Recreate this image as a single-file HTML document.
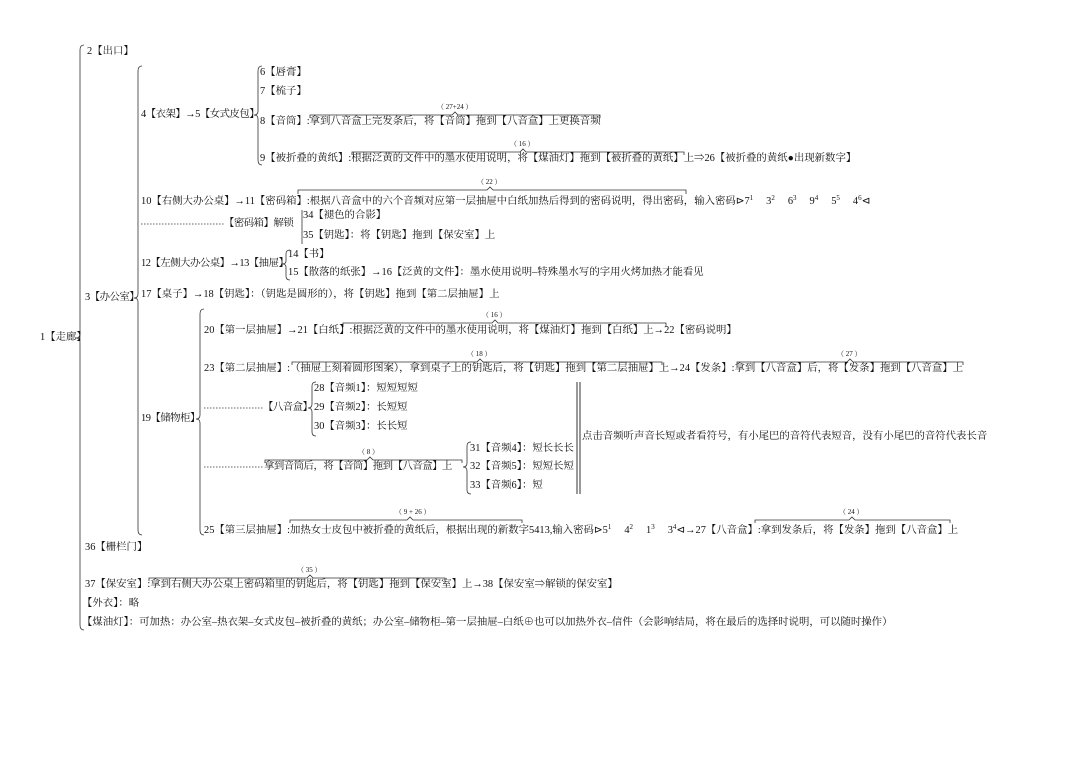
<!DOCTYPE html>
<html><head><meta charset="utf-8"><style>
html,body{margin:0;padding:0;background:#fff}
#c{position:relative;width:1080px;height:762px;overflow:hidden;background:#fff;font-family:"Liberation Serif","Noto Serif CJK SC",serif;font-size:10.4px;color:#111}
.t{position:absolute;white-space:nowrap;line-height:12px;height:12px}
.s{font-size:7px;vertical-align:4px}
.l{font-size:7px;position:absolute;white-space:nowrap}
.n{letter-spacing:-0.5px}
svg{position:absolute;left:0;top:0}
</style></head><body><div id="c">
<svg width="1080" height="762" fill="none" stroke="#333" stroke-width="0.8">
<path d="M84,45 Q80,45 80,50 L80,334 Q80,338 76,338 Q80,338 80,342 L80,625 Q80,630 84,630"/>
<path d="M142,66 Q138,66 138,71 L138,294 Q138,298 134,298 Q138,298 138,302 L138,530 Q138,535 142,535"/>
<path d="M262,66 Q258,66 258,71 L258,111 Q258,115 254,115 Q258,115 258,119 L258,160 Q258,165 262,165"/>
<path d="M302,210 L302,244"/>
<path d="M290,250 Q286,250 286,254 L286,261 Q286,264 282,264 Q286,264 286,267 L286,276 Q286,280 290,280"/>
<path d="M204,309 Q200,309 200,314 L200,415 Q200,419 196,419 Q200,419 200,423 L200,530 Q200,535 204,535"/>
<path d="M316,382 Q312,382 312,386 L312,404 Q312,408 308,408 Q312,408 312,412 L312,432 Q312,436 316,436"/>
<path d="M471,442 Q467,442 467,446 L467,463 Q467,467 463,467 Q467,467 467,471 L467,490 Q467,494 471,494"/>
<path d="M577,382 L577,494 M580,382 L580,494" stroke-width="1"/>
<path d="M310,118 L310,115 L452,115 L455,112 L458,115 L600,115 L600,118"/>
<path d="M352,155 L352,152 L520,152 L523,149 L526,152 L684,152 L684,155"/>
<path d="M298,194 L298,190 L487,190 L490,187 L493,190 L686,190 L686,194"/>
<path d="M343,327 L343,323 L492,323 L495,320 L498,323 L666,323 L666,327"/>
<path d="M292,365 L292,362 L477,362 L480,359 L483,362 L662,362 L662,365"/>
<path d="M737,365 L737,362 L847,362 L850,359 L853,362 L963,362 L963,365"/>
<path d="M265,463 L265,460 L367,460 L370,457 L373,460 L462,460 L462,463"/>
<path d="M290,523 L290,520 L407,520 L410,517 L413,520 L522,520 L522,523"/>
<path d="M755,523 L755,520 L849,520 L852,517 L855,520 L950,520 L950,523"/>
<path d="M149,581 L149,578 L307,578 L310,575 L313,578 L445,578 L445,581"/>
<path d="M141,224 L224,224 M204,408 L263,408 M204,467 L263,467" stroke-dasharray="1.5,1.5"/>
</svg>
<div class="l" style="left:437px;top:102px">（ 27+24 ）</div>
<div class="l" style="left:510px;top:139px">（ 16 ）</div>
<div class="l" style="left:477px;top:177px">（ 22 ）</div>
<div class="l" style="left:482px;top:310px">（ 16 ）</div>
<div class="l" style="left:467px;top:349px">（ 18 ）</div>
<div class="l" style="left:837px;top:349px">（ 27 ）</div>
<div class="l" style="left:358px;top:447px">（ 8 ）</div>
<div class="l" style="left:395px;top:507px">（ 9 + 26 ）</div>
<div class="l" style="left:839px;top:507px">（ 24 ）</div>
<div class="l" style="left:297px;top:565px">（ 35 ）</div>

<div class="t" style="left:40px;top:332px">1【走廊】</div>
<div class="t" style="left:87px;top:46px">2【出口】</div>
<div class="t n" style="left:85px;top:292px">3【办公室】</div>
<div class="t n" style="left:141px;top:109px">4【衣架】→5【女式皮包】</div>
<div class="t" style="left:260px;top:67px">6【唇膏】</div>
<div class="t" style="left:260px;top:86px">7【梳子】</div>
<div class="t" style="left:260px;top:116px">8【音筒】:拿到八音盒上完发条后，将【音筒】拖到【八音盒】上更换音频</div>
<div class="t" style="left:260px;top:153px">9【被折叠的黄纸】:根据泛黄的文件中的墨水使用说明，将【煤油灯】拖到【被折叠的黄纸】上⇒26【被折叠的黄纸●出现新数字】</div>
<div class="t" style="left:141px;top:192px">10【右侧大办公桌】→11【密码箱】:根据八音盒中的六个音频对应第一层抽屉中白纸加热后得到的密码说明，得出密码，输入密码⊳7<span class="s">1</span>&nbsp;&nbsp;&nbsp;&nbsp; 3<span class="s">2</span>&nbsp;&nbsp;&nbsp;&nbsp; 6<span class="s">3</span>&nbsp;&nbsp;&nbsp;&nbsp; 9<span class="s">4</span>&nbsp;&nbsp;&nbsp;&nbsp; 5<span class="s">5</span>&nbsp;&nbsp;&nbsp;&nbsp; 4<span class="s">6</span>⊲</div>
<div class="t n" style="left:224px;top:218px">【密码箱】解锁</div>
<div class="t" style="left:303px;top:210px">34【褪色的合影】</div>
<div class="t" style="left:303px;top:230px">35【钥匙】：将【钥匙】拖到【保安室】上</div>
<div class="t n" style="left:141px;top:258px">12【左侧大办公桌】→13【抽屉】</div>
<div class="t" style="left:288px;top:249px">14【书】</div>
<div class="t" style="left:288px;top:267px">15【散落的纸张】→16【泛黄的文件】：墨水使用说明–特殊墨水写的字用火烤加热才能看见</div>
<div class="t" style="left:141px;top:289px">17【桌子】→18【钥匙】：（钥匙是圆形的），将【钥匙】拖到【第二层抽屉】上</div>
<div class="t n" style="left:141px;top:413px">19【储物柜】</div>
<div class="t" style="left:204px;top:325px">20【第一层抽屉】→21【白纸】:根据泛黄的文件中的墨水使用说明，将【煤油灯】拖到【白纸】上→22【密码说明】</div>
<div class="t" style="left:204px;top:363px">23【第二层抽屉】:（抽屉上刻着圆形图案），拿到桌子上的钥匙后，将【钥匙】拖到【第二层抽屉】上→24【发条】:拿到【八音盒】后，将【发条】拖到【八音盒】上</div>
<div class="t n" style="left:263px;top:402px">【八音盒】</div>
<div class="t" style="left:314px;top:383px">28【音频1】：短短短短</div>
<div class="t" style="left:314px;top:402px">29【音频2】：长短短</div>
<div class="t" style="left:314px;top:421px">30【音频3】：长长短</div>
<div class="t n" style="left:264px;top:461px">拿到音筒后，将【音筒】拖到【八音盒】上</div>
<div class="t" style="left:470px;top:443px">31【音频4】：短长长长</div>
<div class="t" style="left:470px;top:461px">32【音频5】：短短长短</div>
<div class="t" style="left:470px;top:480px">33【音频6】：短</div>
<div class="t" style="left:582px;top:431px">点击音频听声音长短或者看符号，有小尾巴的音符代表短音，没有小尾巴的音符代表长音</div>
<div class="t" style="left:204px;top:521px">25【第三层抽屉】:加热女士皮包中被折叠的黄纸后，根据出现的新数字5413,输入密码⊳5<span class="s">1</span>&nbsp;&nbsp;&nbsp;&nbsp; 4<span class="s">2</span>&nbsp;&nbsp;&nbsp;&nbsp; 1<span class="s">3</span>&nbsp;&nbsp;&nbsp;&nbsp; 3<span class="s">4</span>⊲→27【八音盒】:拿到发条后，将【发条】拖到【八音盒】上</div>
<div class="t" style="left:85px;top:542px">36【栅栏门】</div>
<div class="t" style="left:85px;top:579px">37【保安室】:拿到右侧大办公桌上密码箱里的钥匙后，将【钥匙】拖到【保安室】上→38【保安室⇒解锁的保安室】</div>
<div class="t" style="left:82px;top:598px">【外衣】：略</div>
<div class="t" style="left:82px;top:617px">【煤油灯】：可加热：办公室–热衣架–女式皮包–被折叠的黄纸；办公室–储物柜–第一层抽屉–白纸⊕也可以加热外衣–信件（会影响结局，将在最后的选择时说明，可以随时操作）</div>
</div></body></html>
